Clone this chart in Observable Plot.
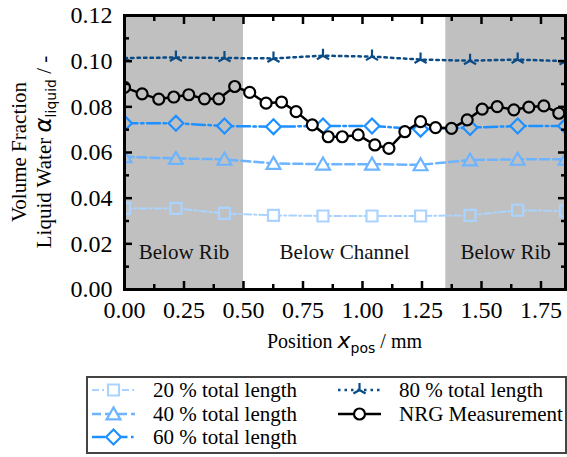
<!DOCTYPE html>
<html><head><meta charset="utf-8">
<script src="https://cdn.jsdelivr.net/npm/d3@7"></script>
<script src="https://cdn.jsdelivr.net/npm/@observablehq/plot@0.6"></script>
<style>
body{margin:0;background:#fff;font-family:"Liberation Serif",serif;}
#wrap{position:relative;width:567px;height:457px;}
#legend{position:absolute;left:86px;top:376px;}
</style>
</head><body><div id="wrap"><div id="chart"></div><div id="legend"></div></div>
<script>
// ---- data ----
const simX  = [0, 0.216, 0.42, 0.626, 0.834, 1.04, 1.244, 1.452, 1.652, 1.853];
const sim20 = [0.0355, 0.0355, 0.0333, 0.0325, 0.0322, 0.0322, 0.0322, 0.0325, 0.0347, 0.0344];
const sim40 = [0.0581, 0.0574, 0.0570, 0.0552, 0.0549, 0.0549, 0.0546, 0.0567, 0.0570, 0.0570];
const sim60 = [0.0728, 0.0728, 0.0716, 0.0713, 0.0716, 0.0716, 0.0702, 0.0709, 0.0716, 0.0716];
const sim80 = [0.1014, 0.1016, 0.1014, 0.1012, 0.1024, 0.1020, 0.1007, 0.1002, 0.1007, 0.1000];
const nrgX = [0.000, 0.074, 0.144, 0.207, 0.270, 0.336, 0.396, 0.463, 0.526, 0.595,
              0.660, 0.721, 0.789, 0.856, 0.915, 0.982, 1.052, 1.111, 1.178, 1.244,
              1.307, 1.374, 1.440, 1.503, 1.566, 1.636, 1.699, 1.762, 1.825];
const nrgY = [0.0885, 0.0857, 0.0834, 0.0843, 0.0853, 0.0835, 0.0835, 0.0889, 0.0863, 0.0816,
              0.0821, 0.0779, 0.0721, 0.0669, 0.0669, 0.0677, 0.0633, 0.0618, 0.0691, 0.0735,
              0.0709, 0.0706, 0.0743, 0.0790, 0.0801, 0.0787, 0.0799, 0.0804, 0.0772];
const xTicks = [0, 0.25, 0.5, 0.75, 1.0, 1.25, 1.5, 1.75];
const xMinor = [0.125, 0.375, 0.625, 0.875, 1.125, 1.375, 1.625];
const yTicks = [0, 0.02, 0.04, 0.06, 0.08, 0.10, 0.12];
const yMinor = [0.01, 0.03, 0.05, 0.07, 0.09, 0.11];
const regionNames = ["Below Rib", "Below Channel", "Below Rib"];
const regionStart = [0, 0.5, 1.35];
const regionEnd   = [0.5, 1.35, 1.853];
const regionShaded = [true, false, true];
const seriesNames = ["20 % total length", "40 % total length", "60 % total length", "80 % total length", "NRG Measurement"];

// ---- symbols ----
const rOf = s => Math.sqrt(s / Math.PI);
const sqSym  = {draw(c, s){const r = rOf(s); c.moveTo(-r,-r); c.lineTo(r,-r); c.lineTo(r,r); c.lineTo(-r,r); c.closePath();}};
const triSym = {draw(c, s){const r = rOf(s); c.moveTo(0,-r*1.1); c.lineTo(r*1.15,r*0.9); c.lineTo(-r*1.15,r*0.9); c.closePath();}};
const diaSym = {draw(c, s){const r = rOf(s); const d=r*1.35; c.moveTo(0,-d); c.lineTo(d,0); c.lineTo(0,d); c.lineTo(-d,0); c.closePath();}};
const yTriSym = {draw(c, s){const r = rOf(s); c.moveTo(0,0); c.lineTo(0,-r); c.moveTo(0,0); c.lineTo(-r*0.866,r*0.5); c.moveTo(0,0); c.lineTo(r*0.866,r*0.5);}};
const circSym = {draw(c, s){const r = rOf(s); c.moveTo(r,0); c.arc(0,0,r,0,2*Math.PI);}};

const series = [
  {name: seriesNames[0], xs: simX, ys: sim20, color: "#aad4ff", sw: 2,   dash: "7,3,2,3",    sym: sqSym,  r: 5.5, fillBg: true},
  {name: seriesNames[1], xs: simX, ys: sim40, color: "#6cb4ff", sw: 2.5, dash: "9,4",        sym: triSym, r: 6,   fillBg: true},
  {name: seriesNames[2], xs: simX, ys: sim60, color: "#1e90ff", sw: 2.5, dash: "13,3.5,2.5,3.5", sym: diaSym, r: 5.5, fillBg: true},
  {name: seriesNames[3], xs: simX, ys: sim80, color: "#0a4a85", sw: 2.5, dash: "2.5,4",      sym: yTriSym, r: 7,  fillBg: false},
  {name: seriesNames[4], xs: nrgX, ys: nrgY,  color: "black",   sw: 2.5, dash: null,         sym: circSym, r: 5.5, fillBg: true}
];

const GRAY = "#c0c0c0";
const bg = x => (x < regionEnd[0] || x > regionStart[2]) ? GRAY : "white";

const regions = regionNames.map((n, i) => ({name: n, x1: regionStart[i], x2: regionEnd[i], shaded: regionShaded[i], xc: (regionStart[i] + regionEnd[i]) / 2}));

const marks = [
  Plot.rect(regions.filter(d => d.shaded), {x1: "x1", x2: "x2", y1: 0, y2: 0.12, fill: GRAY}),
  Plot.text(regions, {x: "xc", y: 0.0163, text: "name", fontSize: 21, fill: "#111"})
];
for (const s of series) {
  const rows = s.xs.map((x, i) => ({x, y: s.ys[i]}));
  marks.push(Plot.line(rows, {x: "x", y: "y", stroke: s.color, strokeWidth: s.sw, strokeDasharray: s.dash || undefined, clip: true}));
  marks.push(Plot.dot(rows, {x: "x", y: "y", symbol: s.sym, r: s.r, stroke: s.color, strokeWidth: 2.2,
    fill: s.fillBg ? (d => bg(d.x)) : "none", clip: true}));
}
marks.push(
  Plot.axisX({ticks: xTicks, anchor: "bottom", tickSize: 0, tickPadding: 11, tickFormat: d3.format(".2f"), label: null, fontSize: 24}),
  Plot.axisY({ticks: yTicks, anchor: "left", tickSize: 0, tickPadding: 12, tickFormat: d3.format(".2f"), label: null, fontSize: 24}),
  Plot.axisX({ticks: xTicks, anchor: "bottom", tickSize: -8, strokeWidth: 2.5, fill: "none", label: null}),
  Plot.axisX({ticks: xMinor, anchor: "bottom", tickSize: -5, strokeWidth: 2.5, fill: "none", label: null}),
  Plot.axisX({ticks: xTicks, anchor: "top", tickSize: -8, strokeWidth: 2.5, fill: "none", label: null}),
  Plot.axisX({ticks: xMinor, anchor: "top", tickSize: -5, strokeWidth: 2.5, fill: "none", label: null}),
  Plot.axisY({ticks: yTicks, anchor: "left", tickSize: -8, strokeWidth: 2.5, fill: "none", label: null}),
  Plot.axisY({ticks: yMinor, anchor: "left", tickSize: -5, strokeWidth: 2.5, fill: "none", label: null}),
  Plot.axisY({ticks: yTicks, anchor: "right", tickSize: -8, strokeWidth: 2.5, fill: "none", label: null}),
  Plot.axisY({ticks: yMinor, anchor: "right", tickSize: -5, strokeWidth: 2.5, fill: "none", label: null}),
  Plot.frame({stroke: "black", strokeWidth: 3})
);

const chart = Plot.plot({
  width: 567, height: 372,
  marginLeft: 124, marginRight: 2, marginTop: 15, marginBottom: 83,
  x: {domain: [0, 1.853]},
  y: {domain: [0, 0.12]},
  style: {fontFamily: '"Liberation Serif", serif', fontSize: "24px", color: "black", background: "white", overflow: "visible"},
  marks
});
document.getElementById("chart").appendChild(chart);

// axis labels
const svg = d3.select(chart);
const xl = svg.append("text").attr("x", 344.5).attr("y", 348).attr("text-anchor", "middle")
  .attr("font-family", '"Liberation Serif", serif').attr("font-size", 20).attr("fill", "black");
xl.append("tspan").text("Position ");
xl.append("tspan").attr("font-family", '"DejaVu Sans", sans-serif').attr("font-style", "italic").attr("font-size", 22).text("x");
xl.append("tspan").attr("font-family", '"DejaVu Sans", sans-serif').attr("font-size", 14).attr("dy", 5).text("pos");
xl.append("tspan").attr("dy", -5).text(" / mm");

svg.append("text").attr("transform", "translate(21,152) rotate(-90)").attr("text-anchor", "middle")
  .attr("dominant-baseline", "middle").attr("font-family", '"Liberation Serif", serif').attr("font-size", 21).attr("fill", "black")
  .text("Volume Fraction");
const yl2 = svg.append("text").attr("transform", "translate(51,152) rotate(-90)").attr("text-anchor", "middle")
  .attr("font-family", '"Liberation Serif", serif').attr("font-size", 21).attr("fill", "black");
yl2.append("tspan").text("Liquid Water ");
yl2.append("tspan").attr("font-family", '"DejaVu Sans", sans-serif').attr("font-style", "italic").attr("font-size", 23).text("α");
yl2.append("tspan").attr("font-family", '"DejaVu Sans", sans-serif').attr("font-size", 14).attr("dy", 5).text("liquid");
yl2.append("tspan").attr("dy", -5).text(" / -");

// legend
const L = d3.select("#legend").append("svg").attr("width", 481).attr("height", 78);
L.append("rect").attr("x", 1).attr("y", 1).attr("width", 479).attr("height", 76).attr("fill", "white").attr("stroke", "#444").attr("stroke-width", 2);
const pos = [[6, 14], [6, 38], [6, 61], [252, 14], [252, 38]];
series.forEach((s, i) => {
  const [lx, ly] = pos[i];
  const g = L.append("g").attr("transform", `translate(${lx},${ly})`);
  g.append("line").attr("x1", 0).attr("x2", 43).attr("y1", 0).attr("y2", 0).attr("stroke", s.color)
    .attr("stroke-width", s.sw).attr("stroke-dasharray", s.dash ? s.dash : null);
  g.append("path").attr("transform", "translate(21.5,0)").attr("d", d3.symbol(s.sym, Math.PI * s.r * s.r)())
    .attr("fill", s.fillBg ? "white" : "none").attr("stroke", s.color).attr("stroke-width", 2.2);
  g.append("text").attr("x", 61).attr("y", 0).attr("dy", "0.35em").attr("font-family", '"Liberation Serif", serif')
    .attr("font-size", 21).attr("fill", "black").text(s.name);
});
</script>
</body></html>
